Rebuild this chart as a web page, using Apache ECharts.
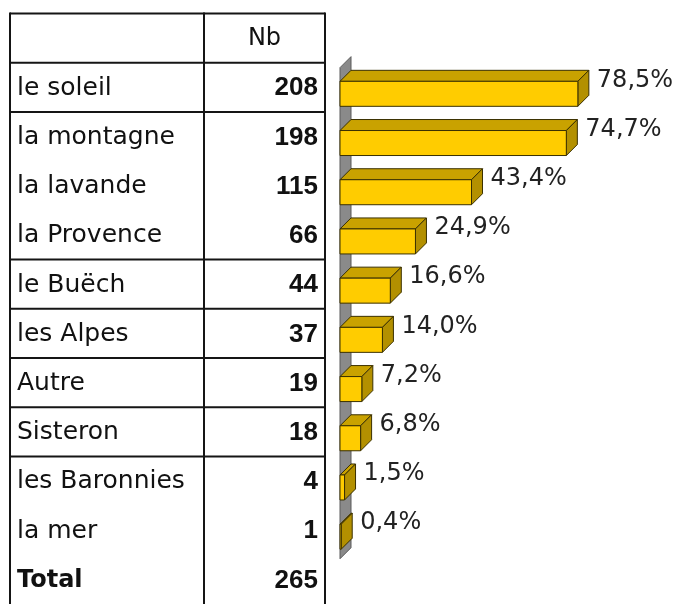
<!DOCTYPE html>
<html>
<head>
<meta charset="utf-8">
<script src="https://cdn.jsdelivr.net/npm/echarts@6/dist/echarts.min.js"></script>
<style>
html,body{margin:0;padding:0;background:#fff;}
#chart{width:681px;height:604px;}
</style>
</head>
<body>
<div id="chart"></div>
<script>
// ---- data ----
const categories = ['le soleil','la montagne','la lavande','la Provence','le Buëch','les Alpes','Autre','Sisteron','les Baronnies','la mer'];
const counts = [208,198,115,66,44,37,19,18,4,1];
const percents = [78.5,74.7,43.4,24.9,16.6,14.0,7.2,6.8,1.5,0.4];
const headerLabel = 'Nb';
const totalLabel = 'Total';
const totalCount = 265;
const separatorRows = [0,1,2,5,6,7,8,9];

// ---- layout / style ----
const TABLE_L = 10, TABLE_MID = 204, TABLE_R = 325;
const DEPTH = 11, FACE_H = 25;
const FRONT = '#FFCC00', TOP = '#C9A200', SIDE = '#B39000', EDGE = '#3a3000';
const NAME_FONT = '25px "DejaVu Sans"';
const NUM_FONT = 'bold 26px "Liberation Sans"';

const chart = echarts.init(document.getElementById('chart'), null, {renderer:'canvas'});

function barItem(params, api){
  const pct = api.value(0), row = api.value(1);
  const s = api.coord([0,row]);
  const e = api.coord([pct,row]);
  const x0 = s[0], ex = e[0], cy = s[1];
  const ft = cy - (FACE_H + DEPTH)/2 + DEPTH + 1;
  const fb = ft + FACE_H;
  return {
    type:'group',
    children:[
      {type:'polygon', shape:{points:[[x0,ft],[x0+DEPTH,ft-DEPTH],[ex+DEPTH,ft-DEPTH],[ex,ft]]},
        style:{fill:TOP, stroke:EDGE, lineWidth:1}},
      {type:'polygon', shape:{points:[[ex,ft],[ex+DEPTH,ft-DEPTH],[ex+DEPTH,fb-DEPTH],[ex,fb]]},
        style:{fill:SIDE, stroke:EDGE, lineWidth:1}},
      {type:'rect', shape:{x:x0, y:ft, width:Math.max(ex-x0,0.5), height:FACE_H},
        style:{fill:FRONT, stroke:EDGE, lineWidth:1}},
      {type:'text', x: ex+DEPTH+8, y: cy-7,
        style:{text: pct.toFixed(1).replace('.',',')+'%', font:'24px "DejaVu Sans"', fill:'#222',
          align:'left', verticalAlign:'middle'}}
    ]
  };
}

function wallItem(params, api){
  const a = api.coord([0, api.value(0)]);
  const b = api.coord([0, api.value(1)]);
  const x0 = a[0];
  return {
    type:'polygon',
    shape:{points:[[x0,a[1]],[x0+DEPTH,a[1]-DEPTH],[x0+DEPTH,b[1]-DEPTH],[x0,b[1]]]},
    style:{fill:'#8a8a8a', stroke:'#5a5a5a', lineWidth:1}
  };
}

function tableTextItem(params, api){
  const i = params.dataIndex;
  const cy = api.coord([0, api.value(0)])[1] + 1;
  const children = [];
  if (i === 0) {
    children.push({type:'text', x:(TABLE_MID+TABLE_R)/2, y:cy,
      style:{text:headerLabel, font:'24px "DejaVu Sans"', fill:'#111', align:'center', verticalAlign:'middle'}});
  } else if (i <= categories.length) {
    children.push({type:'text', x:TABLE_L+7, y:cy,
      style:{text:categories[i-1], font:NAME_FONT, fill:'#111', align:'left', verticalAlign:'middle'}});
    children.push({type:'text', x:TABLE_R-7, y:cy,
      style:{text:String(counts[i-1]), font:NUM_FONT, fill:'#111', align:'right', verticalAlign:'middle'}});
  } else {
    children.push({type:'text', x:TABLE_L+7, y:cy,
      style:{text:totalLabel, font:'bold 24px "DejaVu Sans"', fill:'#111', align:'left', verticalAlign:'middle'}});
    children.push({type:'text', x:TABLE_R-7, y:cy,
      style:{text:String(totalCount), font:NUM_FONT, fill:'#111', align:'right', verticalAlign:'middle'}});
  }
  return {type:'group', children};
}

function hLineItem(params, api){
  const y = api.coord([0, api.value(0)])[1];
  return {type:'line', shape:{x1:TABLE_L, y1:y, x2:TABLE_R, y2:y},
    style:{stroke:'#151515', lineWidth:2}};
}

function vLineItem(params, api){
  const y1 = api.coord([0, api.value(0)])[1];
  const y2 = api.coord([0, api.value(1)])[1];
  return {type:'group', children:[TABLE_L, TABLE_MID, TABLE_R].map(x=>({
    type:'line', shape:{x1:x, y1:y1-1, x2:x, y2:y2}, style:{stroke:'#151515', lineWidth:2}}))};
}

const nRows = categories.length + 2;
const option = {
  animation:false,
  backgroundColor:'#fff',
  grid:{left:340, top:13.5, width:303, height:50.2*nRows},
  xAxis:{type:'value', min:0, max:100, show:false},
  yAxis:{type:'value', min:0, max:nRows, inverse:true, show:false},
  series:[
    {type:'custom', renderItem:vLineItem, data:[[0, nRows]], clip:false, silent:true},
    {type:'custom', renderItem:hLineItem, data:separatorRows.map(r=>[r]), clip:false, silent:true},
    {type:'custom', renderItem:tableTextItem,
      data:Array.from({length:nRows},(_,k)=>[k+0.5]), clip:false, silent:true},
    {type:'custom', renderItem:wallItem, data:[[1.1, 11.08]], clip:false, silent:true},
    {type:'custom', renderItem:barItem,
      data:percents.map((p,i)=>[p, i+1.5]), clip:false, silent:true}
  ]
};
chart.setOption(option);
</script>
</body>
</html>
